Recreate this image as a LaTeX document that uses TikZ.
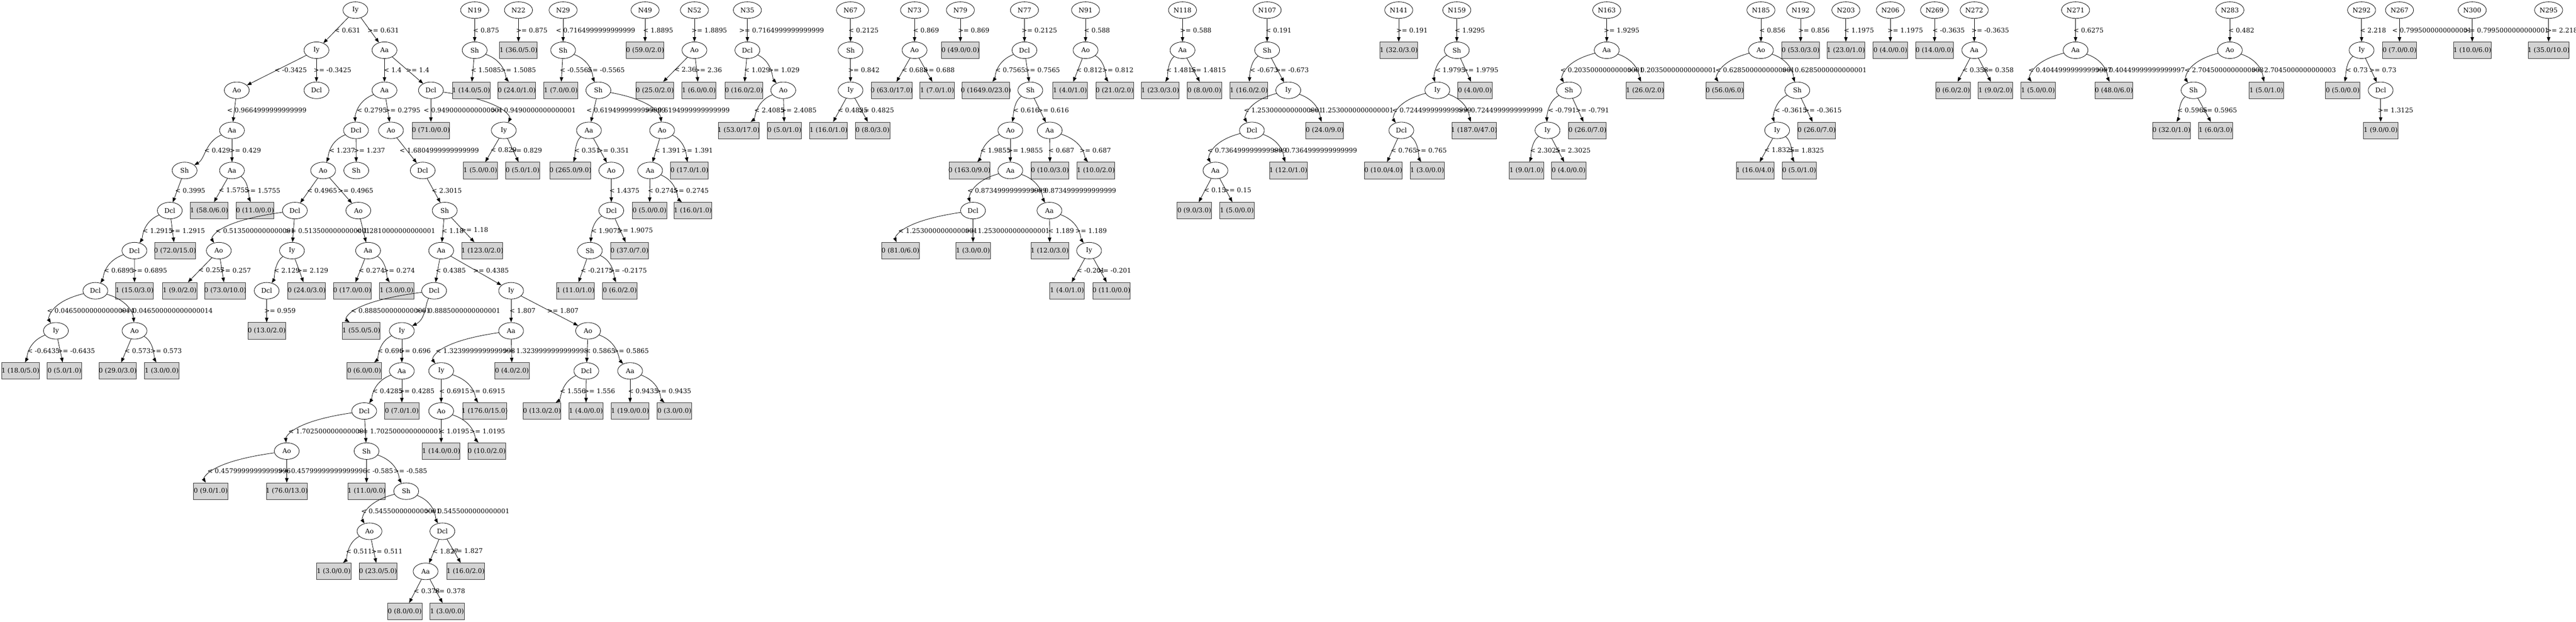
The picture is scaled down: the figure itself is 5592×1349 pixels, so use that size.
\documentclass[tikz,border=0pt]{standalone}
\usepackage{fontspec}
\setmainfont{DejaVu Serif}
\newfontfamily\tms{Liberation Serif}
\usetikzlibrary{shapes.geometric,arrows.meta,calc}
\definecolor{leafgray}{HTML}{D3D3D3}
% text in DejaVu, box sized on Times widths
\newcommand\tw[1]{\setbox0\hbox{\tms #1}\makebox[\wd0][c]{#1}}
% straight connector with label
\newcommand\ed[3]{\draw[link] (#1) -- (#2) node[lbl,pos=.5]{\tw{#3}};}
% bent connector through x=#3 at mid height
\newcommand\edc[4]{%
  \draw[link] let \p1=(#1), \p2=(#2), \n1={#3pt+(#3pt-0.5*\x1-0.5*\x2)/3} in
    (#1) .. controls (\n1,\y1-25pt) and (\n1,\y2+25pt) .. (#2);
  \path ($(#1)!.5!(#2)$) coordinate (mid);
  \node[lbl] at (#3,0 |- mid) {\tw{#4}};}
\begin{document}
\begin{tikzpicture}[x=1pt,y=-1pt,
  every node/.style={font=\fontsize{14pt}{17pt}\selectfont},
  split/.style={ellipse,draw,line width=0.9pt,minimum width=54pt,minimum height=36pt,inner sep=0pt},
  root/.style={split,minimum width=61pt},
  leaf/.style={rectangle,draw=black!80,line width=0.9pt,fill=leafgray,minimum height=36pt,inner xsep=7.92pt,inner ysep=0pt},
  link/.style={draw,line width=0.9pt,-{Triangle[length=10pt,width=7.5pt]}},
  lbl/.style={anchor=west,inner sep=0pt,xshift=3pt}]
\useasboundingbox (0,0) rectangle (5592,1349);

% main tree
\node[split] (a0) at (771.5,22) {Iy};
\node[split] (a1) at (687,109) {Iy};
\node[split] (a2) at (834.6,109) {Aa};
\node[split] (a3) at (514,196) {Ao};
\node[split] (a4) at (687,196) {Dcl};
\node[split] (a5) at (834.6,196) {Aa};
\node[split] (a6) at (935.4,196) {Dcl};
\node[split] (a7) at (503.6,283) {Aa};
\node[split] (a8) at (772.8,283) {Dcl};
\node[split] (a9) at (848.7,283) {Ao};
\node[leaf] (a10) at (935.4,283) {\tw{0 (71.0/0.0)}};
\node[split] (a11) at (1093.6,283) {Iy};
\node[split] (a12) at (400.7,370) {Sh};
\node[split] (a13) at (503.6,370) {Aa};
\node[split] (a14) at (701.4,370) {Ao};
\node[split] (a15) at (773.4,370) {Sh};
\node[split] (a16) at (917.6,370) {Dcl};
\node[leaf] (a17) at (1042.6,370) {\tw{1 (5.0/0.0)}};
\node[leaf] (a18) at (1134.4,370) {\tw{0 (5.0/1.0)}};
\node[split] (a19) at (368.6,457) {Dcl};
\node[leaf] (a20) at (454,457) {\tw{1 (58.0/6.0)}};
\node[leaf] (a21) at (553.5,457) {\tw{0 (11.0/0.0)}};
\node[split] (a22) at (640.1,457) {Dcl};
\node[split] (a23) at (777.9,457) {Ao};
\node[split] (a24) at (965.4,457) {Sh};
\node[split] (a25) at (291.8,544) {Dcl};
\node[leaf] (a26) at (380,544) {\tw{0 (72.0/15.0)}};
\node[split] (a27) at (475,544) {Ao};
\node[split] (a28) at (633.8,544) {Iy};
\node[split] (a29) at (799,544) {Aa};
\node[split] (a30) at (957.7,544) {Aa};
\node[leaf] (a31) at (1047,544) {\tw{1 (123.0/2.0)}};
\node[split] (a32) at (207,631) {Dcl};
\node[leaf] (a33) at (292,631) {\tw{1 (15.0/3.0)}};
\node[leaf] (a34) at (390,631) {\tw{1 (9.0/2.0)}};
\node[leaf] (a35) at (489,631) {\tw{0 (73.0/10.0)}};
\node[split] (a36) at (578.9,631) {Dcl};
\node[leaf] (a37) at (665.6,631) {\tw{0 (24.0/3.0)}};
\node[leaf] (a38) at (764.5,631) {\tw{0 (17.0/0.0)}};
\node[leaf] (a39) at (860.8,631) {\tw{1 (3.0/0.0)}};
\node[split] (a40) at (942.4,631) {Dcl};
\node[split] (a41) at (1109.5,631) {Iy};
\node[split] (a42) at (121.4,718) {Iy};
\node[split] (a43) at (292,718) {Ao};
\node[leaf] (a44) at (578.9,718) {\tw{0 (13.0/2.0)}};
\node[leaf] (a45) at (784.3,718) {\tw{1 (55.0/5.0)}};
\node[split] (a46) at (872.3,718) {Iy};
\node[split] (a47) at (1109.5,718) {Aa};
\node[split] (a48) at (1276.6,718) {Ao};
\node[leaf] (a49) at (44.3,805) {\tw{1 (18.0/5.0)}};
\node[leaf] (a50) at (140,805) {\tw{0 (5.0/1.0)}};
\node[leaf] (a51) at (255.4,805) {\tw{0 (29.0/3.0)}};
\node[leaf] (a52) at (351,805) {\tw{1 (3.0/0.0)}};
\node[leaf] (a53) at (790.6,805) {\tw{0 (6.0/0.0)}};
\node[split] (a54) at (872.3,805) {Aa};
\node[split] (a55) at (957.7,805) {Iy};
\node[leaf] (a56) at (1111.4,805) {\tw{0 (4.0/2.0)}};
\node[split] (a57) at (1272.8,805) {Dcl};
\node[split] (a58) at (1367.8,805) {Aa};
\node[split] (a59) at (790.6,892) {Dcl};
\node[leaf] (a60) at (872.3,892) {\tw{0 (7.0/1.0)}};
\node[split] (a61) at (957.7,892) {Ao};
\node[leaf] (a62) at (1052,892) {\tw{1 (176.0/15.0)}};
\node[leaf] (a63) at (1176.5,892) {\tw{0 (13.0/2.0)}};
\node[leaf] (a64) at (1272,892) {\tw{1 (4.0/0.0)}};
\node[leaf] (a65) at (1367.8,892) {\tw{1 (19.0/0.0)}};
\node[leaf] (a66) at (1464.1,892) {\tw{0 (3.0/0.0)}};
\node[split] (a67) at (622.5,979) {Ao};
\node[split] (a68) at (795.7,979) {Sh};
\node[leaf] (a69) at (957.7,979) {\tw{1 (14.0/0.0)}};
\node[leaf] (a70) at (1056.6,979) {\tw{0 (10.0/2.0)}};
\node[leaf] (a71) at (457.5,1066) {\tw{0 (9.0/1.0)}};
\node[leaf] (a72) at (622.5,1066) {\tw{1 (76.0/13.0)}};
\node[leaf] (a73) at (795.7,1066) {\tw{1 (11.0/0.0)}};
\node[split] (a74) at (881.8,1066) {Sh};
\node[split] (a75) at (802.1,1153) {Ao};
\node[split] (a76) at (960.3,1153) {Dcl};
\node[leaf] (a77) at (724.3,1240) {\tw{1 (3.0/0.0)}};
\node[leaf] (a78) at (820.6,1240) {\tw{0 (23.0/5.0)}};
\node[split] (a79) at (923.9,1240) {Aa};
\node[leaf] (a80) at (1010.7,1240) {\tw{1 (16.0/2.0)}};
\node[leaf] (a81) at (878.6,1327) {\tw{0 (8.0/0.0)}};
\node[leaf] (a82) at (970.5,1327) {\tw{1 (3.0/0.0)}};

\ed{a0}{a1}{< 0.631}
\ed{a0}{a2}{>= 0.631}
\ed{a1}{a3}{< -0.3425}
\ed{a1}{a4}{>= -0.3425}
\ed{a2}{a5}{< 1.4}
\ed{a2}{a6}{>= 1.4}
\ed{a3}{a7}{< 0.9664999999999999}
\edc{a5}{a8}{779}{< 0.2795}
\ed{a5}{a9}{>= 0.2795}
\ed{a6}{a10}{< 0.9490000000000001}
\edc{a6}{a11}{1084}{>= 0.9490000000000001}
\edc{a7}{a12}{447}{< 0.429}
\ed{a7}{a13}{>= 0.429}
\edc{a8}{a14}{718}{< 1.237}
\ed{a8}{a15}{>= 1.237}
\ed{a9}{a16}{< 1.6804999999999999}
\ed{a11}{a17}{< 0.829}
\ed{a11}{a18}{>= 0.829}
\ed{a12}{a19}{< 0.3995}
\ed{a13}{a20}{< 1.5755}
\edc{a13}{a21}{538}{>= 1.5755}
\ed{a14}{a22}{< 0.4965}
\ed{a14}{a23}{>= 0.4965}
\ed{a16}{a24}{< 2.3015}
\edc{a19}{a25}{314}{< 1.2915}
\ed{a19}{a26}{>= 1.2915}
\edc{a22}{a27}{484}{< 0.5135000000000001}
\ed{a22}{a28}{>= 0.5135000000000001}
\ed{a23}{a29}{< 1.2810000000000001}
\ed{a24}{a30}{< 1.18}
\ed{a24}{a31}{>= 1.18}
\edc{a25}{a32}{230}{< 0.6895}
\ed{a25}{a33}{>= 0.6895}
\ed{a27}{a34}{< 0.257}
\ed{a27}{a35}{>= 0.257}
\edc{a28}{a36}{598}{< 2.129}
\ed{a28}{a37}{>= 2.129}
\ed{a29}{a38}{< 0.274}
\edc{a29}{a39}{838}{>= 0.274}
\ed{a30}{a40}{< 0.4385}
\ed{a30}{a41}{>= 0.4385}
\edc{a32}{a42}{120}{< 0.046500000000000014}
\edc{a32}{a43}{280}{>= 0.046500000000000014}
\ed{a36}{a44}{>= 0.959}
\edc{a40}{a45}{778}{< 0.8885000000000001}
\edc{a40}{a46}{920}{>= 0.8885000000000001}
\ed{a41}{a47}{< 1.807}
\ed{a41}{a48}{>= 1.807}
\edc{a42}{a49}{64}{< -0.6435}
\ed{a42}{a50}{>= -0.6435}
\ed{a43}{a51}{< 0.573}
\edc{a43}{a52}{332}{>= 0.573}
\edc{a46}{a53}{823}{< 0.696}
\ed{a46}{a54}{>= 0.696}
\edc{a47}{a55}{962}{< 1.3239999999999998}
\ed{a47}{a56}{>= 1.3239999999999998}
\ed{a48}{a57}{< 0.5865}
\edc{a48}{a58}{1338}{>= 0.5865}
\edc{a54}{a59}{813}{< 0.4285}
\ed{a54}{a60}{>= 0.4285}
\ed{a55}{a61}{< 0.6915}
\edc{a55}{a62}{1026}{>= 0.6915}
\edc{a57}{a63}{1219}{< 1.556}
\ed{a57}{a64}{>= 1.556}
\ed{a58}{a65}{< 0.9435}
\edc{a58}{a66}{1430}{>= 0.9435}
\edc{a59}{a67}{642}{< 1.7025000000000001}
\ed{a59}{a68}{>= 1.7025000000000001}
\ed{a61}{a69}{< 1.0195}
\edc{a61}{a70}{1026}{>= 1.0195}
\edc{a67}{a71}{467}{< 0.45799999999999996}
\ed{a67}{a72}{>= 0.45799999999999996}
\ed{a68}{a73}{< -0.585}
\edc{a68}{a74}{860}{>= -0.585}
\edc{a74}{a75}{800}{< 0.5455000000000001}
\edc{a74}{a76}{940}{>= 0.5455000000000001}
\edc{a75}{a77}{755}{< 0.511}
\ed{a75}{a78}{>= 0.511}
\ed{a76}{a79}{< 1.827}
\ed{a76}{a80}{>= 1.827}
\ed{a79}{a81}{< 0.378}
\ed{a79}{a82}{>= 0.378}

% N19, N22
\node[root] (b0) at (1030.4,22) {N19};
\node[split] (b1) at (1030.4,109) {Sh};
\node[leaf] (b2) at (1022.8,196) {\tw{1 (14.0/5.0)}};
\node[leaf] (b3) at (1121.6,196) {\tw{0 (24.0/1.0)}};
\node[root] (c0) at (1125.5,22) {N22};
\node[leaf] (c1) at (1125.5,109) {\tw{1 (36.0/5.0)}};
\ed{b0}{b1}{< 0.875}
\ed{b1}{b2}{< 1.5085}
\edc{b1}{b3}{1093}{>= 1.5085}
\ed{c0}{c1}{>= 0.875}

% N29
\node[root] (d0) at (1222.4,22) {N29};
\node[split] (d1) at (1222.4,109) {Sh};
\node[leaf] (d2) at (1217.3,196) {\tw{1 (7.0/0.0)}};
\node[split] (d3) at (1298.9,196) {Sh};
\node[split] (d4) at (1278.5,283) {Aa};
\node[split] (d5) at (1437.3,283) {Ao};
\node[leaf] (d6) at (1238.3,370) {\tw{0 (265.0/9.0)}};
\node[split] (d7) at (1327,370) {Ao};
\node[split] (d8) at (1327,457) {Dcl};
\node[split] (d9) at (1280.4,544) {Sh};
\node[leaf] (d10) at (1366.5,544) {\tw{0 (37.0/7.0)}};
\node[leaf] (d11) at (1249.2,631) {\tw{1 (11.0/1.0)}};
\node[leaf] (d12) at (1345.5,631) {\tw{0 (6.0/2.0)}};
\node[split] (d13) at (1411.2,370) {Aa};
\node[leaf] (d14) at (1496.6,370) {\tw{0 (17.0/1.0)}};
\node[leaf] (d15) at (1410,457) {\tw{0 (5.0/0.0)}};
\node[leaf] (d16) at (1504,457) {\tw{1 (16.0/1.0)}};
\ed{d0}{d1}{< 0.7164999999999999}
\ed{d1}{d2}{< -0.5565}
\edc{d1}{d3}{1281}{>= -0.5565}
\ed{d3}{d4}{< 0.6194999999999999}
\edc{d3}{d5}{1418}{>= 0.6194999999999999}
\edc{d4}{d6}{1250}{< 0.351}
\ed{d4}{d7}{>= 0.351}
\ed{d7}{d8}{< 1.4375}
\edc{d8}{d9}{1288}{< 1.9075}
\ed{d8}{d10}{>= 1.9075}
\ed{d9}{d11}{< -0.2175}
\edc{d9}{d12}{1329}{>= -0.2175}
\ed{d5}{d13}{< 1.391}
\edc{d5}{d14}{1485}{>= 1.391}
\ed{d13}{d15}{< 0.2745}
\edc{d13}{d16}{1468}{>= 0.2745}

% N49, N52
\node[root] (e0) at (1400.3,22) {N49};
\node[leaf] (e1) at (1400.3,109) {\tw{0 (59.0/2.0)}};
\node[root] (f0) at (1507.5,22) {N52};
\node[split] (f1) at (1507.5,109) {Ao};
\node[leaf] (f2) at (1421.4,196) {\tw{0 (25.0/2.0)}};
\node[leaf] (f3) at (1517,196) {\tw{1 (6.0/0.0)}};
\ed{e0}{e1}{< 1.8895}
\ed{f0}{f1}{>= 1.8895}
\ed{f1}{f2}{< 2.36}
\ed{f1}{f3}{>= 2.36}

% N35
\node[root] (g0) at (1622.4,22) {N35};
\node[split] (g1) at (1622.4,109) {Dcl};
\node[leaf] (g2) at (1614.8,196) {\tw{0 (16.0/2.0)}};
\node[split] (g3) at (1700.3,196) {Ao};
\node[leaf] (g4) at (1603.3,283) {\tw{1 (53.0/17.0)}};
\node[leaf] (g5) at (1702.8,283) {\tw{0 (5.0/1.0)}};
\ed{g0}{g1}{>= 0.7164999999999999}
\ed{g1}{g2}{< 1.029}
\edc{g1}{g3}{1673}{>= 1.029}
\edc{g3}{g4}{1642}{< 2.4085}
\ed{g3}{g5}{>= 2.4085}

% N67, N73, N79
\node[root] (h0) at (1846.3,22) {N67};
\node[split] (h1) at (1846.3,109) {Sh};
\node[split] (h2) at (1846.3,196) {Iy};
\node[leaf] (h3) at (1798.5,283) {\tw{1 (16.0/1.0)}};
\node[leaf] (h4) at (1894.1,283) {\tw{0 (8.0/3.0)}};
\node[root] (i0) at (1985.3,22) {N73};
\node[split] (i1) at (1985.3,109) {Ao};
\node[leaf] (i2) at (1935.6,196) {\tw{0 (63.0/17.0)}};
\node[leaf] (i3) at (2034.4,196) {\tw{1 (7.0/1.0)}};
\node[root] (j0) at (2084.8,22) {N79};
\node[leaf] (j1) at (2084.8,109) {\tw{0 (49.0/0.0)}};
\ed{h0}{h1}{< 0.2125}
\ed{h1}{h2}{>= 0.842}
\ed{h2}{h3}{< 0.4825}
\ed{h2}{h4}{>= 0.4825}
\ed{i0}{i1}{< 0.869}
\ed{i1}{i2}{< 0.688}
\ed{i1}{i3}{>= 0.688}
\ed{j0}{j1}{>= 0.869}

% N77
\node[root] (k0) at (2223.9,22) {N77};
\node[split] (k1) at (2223.9,109) {Dcl};
\node[leaf] (k2) at (2140.3,196) {\tw{0 (1649.0/23.0)}};
\node[split] (k3) at (2236.6,196) {Sh};
\node[split] (k4) at (2193.2,283) {Ao};
\node[split] (k5) at (2278.7,283) {Aa};
\node[leaf] (k6) at (2104.6,370) {\tw{0 (163.0/9.0)}};
\node[split] (k7) at (2193.2,370) {Aa};
\node[leaf] (k8) at (2279.3,370) {\tw{0 (10.0/3.0)}};
\node[leaf] (k9) at (2378.8,370) {\tw{1 (10.0/2.0)}};
\node[split] (k10) at (2112.2,457) {Dcl};
\node[split] (k11) at (2278.1,457) {Aa};
\node[leaf] (k12) at (1954.7,544) {\tw{0 (81.0/6.0)}};
\node[leaf] (k13) at (2112.2,544) {\tw{1 (3.0/0.0)}};
\node[leaf] (k14) at (2278.7,544) {\tw{1 (12.0/3.0)}};
\node[split] (k15) at (2364.2,544) {Iy};
\node[leaf] (k16) at (2316.3,631) {\tw{1 (4.0/1.0)}};
\node[leaf] (k17) at (2412.6,631) {\tw{0 (11.0/0.0)}};
\ed{k0}{k1}{>= 0.2125}
\edc{k1}{k2}{2165}{< 0.7565}
\ed{k1}{k3}{>= 0.7565}
\edc{k3}{k4}{2203}{< 0.616}
\ed{k3}{k5}{>= 0.616}
\edc{k4}{k6}{2133}{< 1.9855}
\ed{k4}{k7}{>= 1.9855}
\ed{k5}{k8}{< 0.687}
\edc{k5}{k9}{2349}{>= 0.687}
\edc{k7}{k10}{2116}{< 0.8734999999999999}
\edc{k7}{k11}{2257}{>= 0.8734999999999999}
\edc{k10}{k12}{1966}{< 1.2530000000000001}
\ed{k10}{k13}{>= 1.2530000000000001}
\ed{k11}{k14}{< 1.189}
\edc{k11}{k15}{2340}{>= 1.189}
\ed{k15}{k16}{< -0.201}
\ed{k15}{k17}{>= -0.201}

% N91, N118
\node[root] (l0) at (2356.5,22) {N91};
\node[split] (l1) at (2356.5,109) {Ao};
\node[leaf] (l2) at (2322.7,196) {\tw{1 (4.0/1.0)}};
\node[leaf] (l3) at (2419.6,196) {\tw{0 (21.0/2.0)}};
\node[root] (m0) at (2567,22) {N118};
\node[split] (m1) at (2567,109) {Aa};
\node[leaf] (m2) at (2518.6,196) {\tw{1 (23.0/3.0)}};
\node[leaf] (m3) at (2614.5,196) {\tw{0 (8.0/0.0)}};
\ed{l0}{l1}{< 0.588}
\ed{l1}{l2}{< 0.812}
\edc{l1}{l3}{2398}{>= 0.812}
\ed{m0}{m1}{>= 0.588}
\edc{m1}{m2}{2536}{< 1.4815}
\ed{m1}{m3}{>= 1.4815}

% N107
\node[root] (n0) at (2750.7,22) {N107};
\node[split] (n1) at (2750.7,109) {Sh};
\node[leaf] (n2) at (2710.9,196) {\tw{1 (16.0/2.0)}};
\node[split] (n3) at (2796.6,196) {Iy};
\node[split] (n4) at (2717.6,283) {Dcl};
\node[leaf] (n5) at (2875.7,283) {\tw{0 (24.0/9.0)}};
\node[split] (n6) at (2638.5,370) {Aa};
\node[leaf] (n7) at (2796.6,370) {\tw{1 (12.0/1.0)}};
\node[leaf] (n8) at (2592.6,457) {\tw{0 (9.0/3.0)}};
\node[leaf] (n9) at (2684.9,457) {\tw{1 (5.0/0.0)}};
\ed{n0}{n1}{< 0.191}
\edc{n1}{n2}{2717}{< -0.673}
\ed{n1}{n3}{>= -0.673}
\edc{n3}{n4}{2716}{< 1.2530000000000001}
\edc{n3}{n5}{2859}{>= 1.2530000000000001}
\edc{n4}{n6}{2637}{< 0.7364999999999999}
\edc{n4}{n7}{2780}{>= 0.7364999999999999}
\ed{n6}{n8}{< 0.15}
\ed{n6}{n9}{>= 0.15}

% N141, N159
\node[root] (o0) at (3036.4,22) {N141};
\node[leaf] (o1) at (3036.4,109) {\tw{1 (32.0/3.0)}};
\node[root] (p0) at (3162.4,22) {N159};
\node[split] (p1) at (3162.4,109) {Sh};
\node[split] (p2) at (3120.1,196) {Iy};
\node[leaf] (p3) at (3201.7,196) {\tw{0 (4.0/0.0)}};
\node[split] (p4) at (3042,283) {Dcl};
\node[leaf] (p5) at (3200,283) {\tw{1 (187.0/47.0)}};
\node[leaf] (p6) at (3002.8,370) {\tw{0 (10.0/4.0)}};
\node[leaf] (p7) at (3098.2,370) {\tw{1 (3.0/0.0)}};
\ed{o0}{o1}{>= 0.191}
\ed{p0}{p1}{< 1.9295}
\edc{p1}{p2}{3120}{< 1.9795}
\ed{p1}{p3}{>= 1.9795}
\edc{p2}{p4}{3038}{< 0.7244999999999999}
\edc{p2}{p5}{3183}{>= 0.7244999999999999}
\ed{p4}{p6}{< 0.765}
\edc{p4}{p7}{3078}{>= 0.765}

% N163
\node[root] (q0) at (3487.9,22) {N163};
\node[split] (q1) at (3487.9,109) {Aa};
\node[split] (q2) at (3405.7,196) {Sh};
\node[leaf] (q3) at (3571,196) {\tw{1 (26.0/2.0)}};
\node[split] (q4) at (3359.3,283) {Iy};
\node[leaf] (q5) at (3446,283) {\tw{0 (26.0/7.0)}};
\node[leaf] (q6) at (3313.4,370) {\tw{1 (9.0/1.0)}};
\node[leaf] (q7) at (3405.2,370) {\tw{0 (4.0/0.0)}};
\ed{q0}{q1}{>= 1.9295}
\edc{q1}{q2}{3404}{< 0.20350000000000001}
\edc{q1}{q3}{3552}{>= 0.20350000000000001}
\edc{q2}{q4}{3364}{< -0.791}
\ed{q2}{q5}{>= -0.791}
\edc{q4}{q6}{3326}{< 2.3025}
\ed{q4}{q7}{>= 2.3025}

% N185
\node[root] (r0) at (3822.6,22) {N185};
\node[split] (r1) at (3822.6,109) {Ao};
\node[leaf] (r2) at (3744,196) {\tw{0 (56.0/6.0)}};
\node[split] (r3) at (3901.6,196) {Sh};
\node[split] (r4) at (3857.8,283) {Iy};
\node[leaf] (r5) at (3943.5,283) {\tw{0 (26.0/7.0)}};
\node[leaf] (r6) at (3809.8,370) {\tw{1 (16.0/4.0)}};
\node[leaf] (r7) at (3905.7,370) {\tw{0 (5.0/1.0)}};
\ed{r0}{r1}{< 0.856}
\edc{r1}{r2}{3740}{< 0.6285000000000001}
\edc{r1}{r3}{3886}{>= 0.6285000000000001}
\edc{r3}{r4}{3857}{< -0.3615}
\ed{r3}{r5}{>= -0.3615}
\ed{r4}{r6}{< 1.8325}
\edc{r4}{r7}{3889}{>= 1.8325}

% N192, N203, N206, N269, N272
\node[root] (s0) at (3908.8,22) {N192};
\node[leaf] (s1) at (3908.8,109) {\tw{0 (53.0/3.0)}};
\node[root] (t0) at (4007,22) {N203};
\node[leaf] (t1) at (4007,109) {\tw{1 (23.0/1.0)}};
\node[root] (u0) at (4103.6,22) {N206};
\node[leaf] (u1) at (4103.6,109) {\tw{0 (4.0/0.0)}};
\node[root] (v0) at (4199.5,22) {N269};
\node[leaf] (v1) at (4199.5,109) {\tw{0 (14.0/0.0)}};
\node[root] (w0) at (4285.7,22) {N272};
\node[split] (w1) at (4285.7,109) {Aa};
\node[leaf] (w2) at (4239.8,196) {\tw{0 (6.0/2.0)}};
\node[leaf] (w3) at (4331.6,196) {\tw{1 (9.0/2.0)}};
\ed{s0}{s1}{>= 0.856}
\ed{t0}{t1}{< 1.1975}
\ed{u0}{u1}{>= 1.1975}
\ed{v0}{v1}{< -0.3635}
\ed{w0}{w1}{>= -0.3635}
\ed{w1}{w2}{< 0.358}
\ed{w1}{w3}{>= 0.358}

% N271, N283
\node[root] (x0) at (4505.6,22) {N271};
\node[split] (x1) at (4505.6,109) {Aa};
\node[leaf] (x2) at (4424,196) {\tw{1 (5.0/0.0)}};
\node[leaf] (x3) at (4588.8,196) {\tw{0 (48.0/6.0)}};
\node[root] (y0) at (4840.6,22) {N283};
\node[split] (y1) at (4840.6,109) {Ao};
\node[split] (y2) at (4761.7,196) {Sh};
\node[leaf] (y3) at (4919.8,196) {\tw{1 (5.0/1.0)}};
\node[leaf] (y4) at (4713.8,283) {\tw{0 (32.0/1.0)}};
\node[leaf] (y5) at (4809.5,283) {\tw{1 (6.0/3.0)}};
\ed{x0}{x1}{< 0.6275}
\edc{x1}{x2}{4420}{< 0.40449999999999997}
\edc{x1}{x3}{4569}{>= 0.40449999999999997}
\ed{y0}{y1}{< 0.482}
\edc{y1}{y2}{4758}{< 2.7045000000000003}
\edc{y1}{y3}{4905}{>= 2.7045000000000003}
\edc{y2}{y4}{4731}{< 0.5965}
\ed{y2}{y5}{>= 0.5965}

% N292, N267, N300, N295
\node[root] (z0) at (5126.5,22) {N292};
\node[split] (z1) at (5126.5,109) {Iy};
\node[leaf] (z2) at (5085.5,196) {\tw{0 (5.0/0.0)}};
\node[split] (z3) at (5167.9,196) {Dcl};
\node[leaf] (z4) at (5167.9,283) {\tw{1 (9.0/0.0)}};
\node[root] (ra0) at (5208.8,22) {N267};
\node[leaf] (ra1) at (5208.8,109) {\tw{0 (7.0/0.0)}};
\node[root] (rb0) at (5366.7,22) {N300};
\node[leaf] (rb1) at (5366.7,109) {\tw{1 (10.0/6.0)}};
\node[root] (rc0) at (5532.5,22) {N295};
\node[leaf] (rc1) at (5532.5,109) {\tw{1 (35.0/10.0)}};
\ed{z0}{z1}{< 2.218}
\edc{z1}{z2}{5095}{< 0.73}
\ed{z1}{z3}{>= 0.73}
\ed{z3}{z4}{>= 1.3125}
\ed{ra0}{ra1}{< 0.7995000000000001}
\ed{rb0}{rb1}{>= 0.7995000000000001}
\ed{rc0}{rc1}{>= 2.218}
\end{tikzpicture}
\end{document}
